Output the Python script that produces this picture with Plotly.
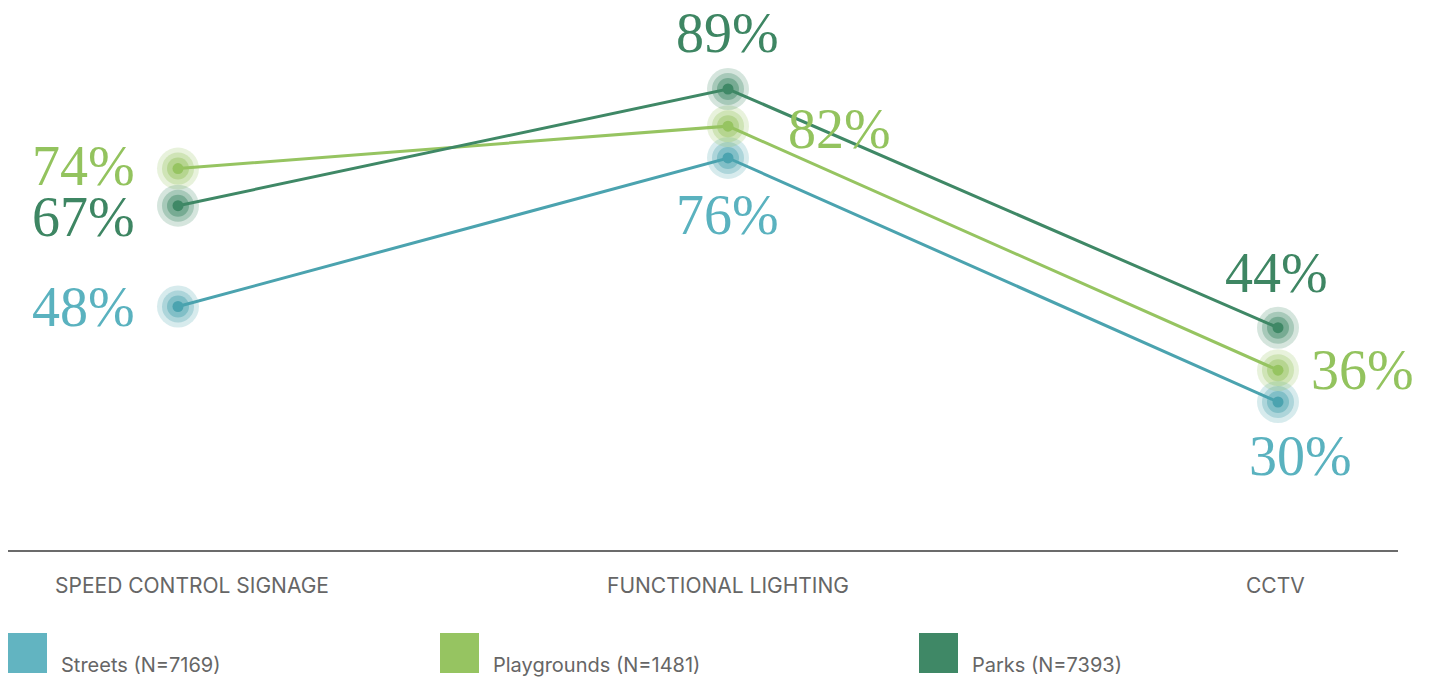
import plotly.graph_objects as go

categories = ["SPEED CONTROL SIGNAGE", "FUNCTIONAL LIGHTING", "CCTV"]
series_names = ["Streets (N=7169)", "Playgrounds (N=1481)", "Parks (N=7393)"]
streets = [48, 76, 30]
playgrounds = [74, 82, 36]
parks = [67, 89, 44]

W, H = 1436, 678
colors = {"Streets": (75, 163, 175), "Playgrounds": (150, 196, 97), "Parks": (63, 136, 102)}
label_colors = {"Streets": "#5AB2BF", "Playgrounds": "#93C35E", "Parks": "#3E8663"}
legend_colors = ["#62B4C1", "#96C461", "#3F8866"]

xs = list(range(len(categories)))
data = [("Streets", streets), ("Playgrounds", playgrounds), ("Parks", parks)]

fig = go.Figure()

# lines
for name, vals in data:
    r, g, b = colors[name]
    fig.add_trace(go.Scatter(x=xs, y=vals, mode="lines",
                             line=dict(color=f"rgb({r},{g},{b})", width=3),
                             hoverinfo="skip", showlegend=False))
# concentric markers
layers = [(42, 0.22), (32, 0.3), (22, 0.45), (11, 1.0)]
for name, vals in data:
    r, g, b = colors[name]
    for size, a in layers:
        fig.add_trace(go.Scatter(x=xs, y=vals, mode="markers",
                                 marker=dict(size=size, color=f"rgba({r},{g},{b},{a})",
                                             line=dict(width=0)),
                                 hoverinfo="skip", showlegend=False))

# value labels: (series, index) -> (xanchor, xshift, yshift)
offsets = {
    ("Streets", 0): ("right", -41, 0),
    ("Playgrounds", 0): ("right", -41, 3),
    ("Parks", 0): ("right", -41, -11),
    ("Parks", 1): ("center", -1, 56),
    ("Playgrounds", 1): ("left", 58, -3),
    ("Streets", 1): ("center", -1, -57),
    ("Parks", 2): ("center", -2, 55),
    ("Playgrounds", 2): ("left", 31, 0),
    ("Streets", 2): ("center", 22, -54),
}
serif = "Liberation Serif"
for name, vals in data:
    for i, v in enumerate(vals):
        xa, xsft, ysft = offsets[(name, i)]
        fig.add_annotation(x=i, y=v, xref="x", yref="y", text=f"{v}%", showarrow=False,
                           xanchor=xa, yanchor="middle", xshift=xsft, yshift=ysft,
                           font=dict(family=serif, size=56, color=label_colors[name]))

# baseline
fig.add_shape(type="line", xref="paper", yref="paper", x0=8 / W, x1=1398 / W,
              y0=1 - 551 / H, y1=1 - 551 / H, line=dict(color="#6b6b6b", width=2))

# category labels
cat_shift = [14, 0, -3]
for i, c in enumerate(categories):
    fig.add_annotation(x=i, y=1 - 585 / H, xref="x", yref="paper", text=c, showarrow=False,
                       xanchor="center", yanchor="middle", xshift=cat_shift[i],
                       font=dict(family="Inter", size=21, color="#666666"))

# legend
leg_x = [8, 440, 919]
for i, nm in enumerate(series_names):
    x0 = leg_x[i]
    fig.add_shape(type="rect", xref="paper", yref="paper", x0=x0 / W, x1=(x0 + 39) / W,
                  y0=1 - 673 / H, y1=1 - 633 / H, fillcolor=legend_colors[i], line=dict(width=0))
    fig.add_annotation(x=(x0 + 51) / W, y=1 - 665 / H, xref="paper", yref="paper", text=nm,
                       showarrow=False, xanchor="left", yanchor="middle",
                       font=dict(family="Inter", size=20, color="#666666"))

# y mapping: value v -> pixel 89 + (89 - v) * 5.305
k = 5.305
y_top = 89 + 89 / k
y_bot = 89 - (H - 89) / k
x_left = -178 / 550
x_right = (W - 178) / 550

fig.update_layout(
    width=W, height=H, margin=dict(l=0, r=0, t=0, b=0),
    paper_bgcolor="white", plot_bgcolor="white",
    xaxis=dict(range=[x_left, x_right], visible=False, domain=[0, 1]),
    yaxis=dict(range=[y_bot, y_top], visible=False, domain=[0, 1]),
    showlegend=False,
)

fig.write_html("out.html")
